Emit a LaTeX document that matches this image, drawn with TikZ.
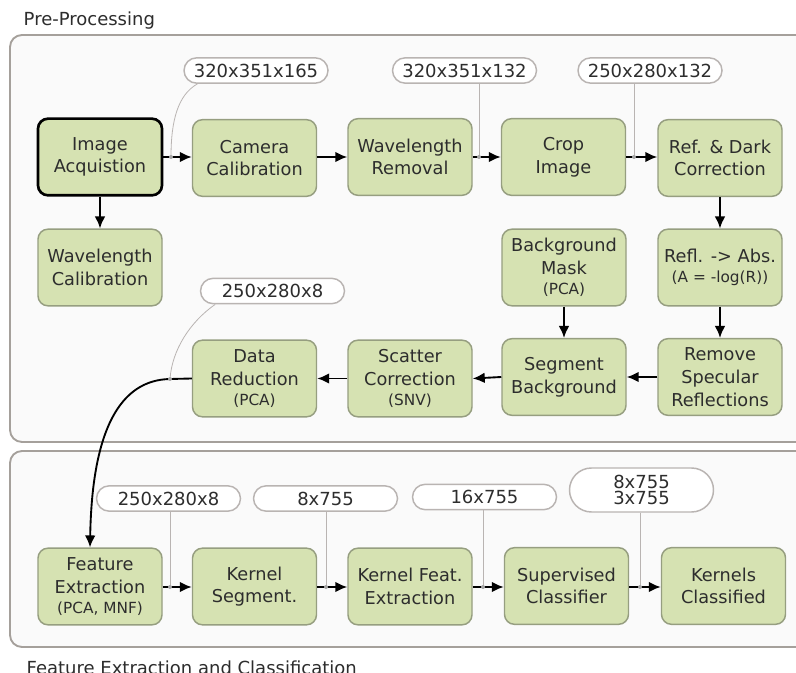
\documentclass[tikz,border=0pt]{standalone}
\usepackage{fontspec}
\setmainfont{DejaVu Sans}
\usetikzlibrary{arrows.meta,shapes.misc}
\definecolor{nodefill}{RGB}{214,226,178}
\definecolor{nodeline}{RGB}{150,158,128}
\definecolor{frameline}{RGB}{165,160,155}
\definecolor{txt}{RGB}{45,45,45}
\definecolor{thinline}{RGB}{185,180,178}
\newcommand{\subtxt}[1]{{\fontsize{11.5}{13}\selectfont #1}}
\tikzset{
  box/.style={draw=nodeline, line width=1.1pt, fill=nodefill, rounded corners=7.5pt,
    minimum width=93pt, minimum height=57.5pt, inner sep=0pt, align=center,
    text=txt, font=\fontsize{13.3}{17}\selectfont},
  startbox/.style={box, draw=black, line width=2pt},
  dimlabel/.style={draw=thinline, line width=1.1pt, fill=white, rounded rectangle,
    minimum width=108pt, minimum height=19pt, inner sep=0pt, align=center,
    text=txt, font=\fontsize{13.5}{12.5}\selectfont},
  frame/.style={draw=frameline, line width=1.4pt, rounded corners=9pt},
  flow/.style={draw=black, line width=1.4pt, -{Latex[length=9pt,width=8pt]}},
  tie/.style={draw=thinline, line width=0.6pt},
  dot/.style={circle, fill=gray!70, inner sep=0pt, minimum size=3pt},
  title/.style={text=txt, font=\fontsize{13.5}{16}\selectfont, anchor=west}
}
\begin{document}
\begin{tikzpicture}[x=0.75pt,y=-0.75pt]
\useasboundingbox (0,0) rectangle (796,673);
\clip (0,0) rectangle (796,673);
\fill[white] (0,0) rectangle (796,673);
% frames
\draw[frame, fill=black!2] (10,35) rectangle (815,442);
\draw[frame, fill=black!2] (10,451) rectangle (815,647);
\node[title] (t1) at (19,21) {Pre-Processing};
\node[title] (t2) at (22,668) {Feature Extraction and Classification};
% row 1
\node[startbox] (ia) at (100,157) {Image\\Acquistion};
\node[box] (cc) at (254.5,158) {Camera\\Calibration};
\node[box] (wr) at (410,157) {Wavelength\\Removal};
\node[box] (ci) at (563.5,157) {Crop\\Image};
\node[box] (rd) at (720,158) {Ref. \& Dark\\Correction};
% row 2
\node[box] (wc) at (100,267.5) {Wavelength\\Calibration};
\node[box] (bm) at (564,267.5) {Background\\Mask\\[-2pt]\subtxt{(PCA)}};
\node[box] (ra) at (720,267.5) {Refl. -> Abs.\\[-2pt]\subtxt{(A = -log(R))}};
% row 3
\node[box] (dr) at (254.5,378.5) {Data\\Reduction\\[-2pt]\subtxt{(PCA)}};
\node[box] (sc) at (410,378.5) {Scatter\\Correction\\[-2pt]\subtxt{(SNV)}};
\node[box] (sb) at (564,377) {Segment\\Background};
\node[box] (rs) at (720,377) {Remove\\Specular\\Reflections};
% row 4
\node[box] (fe) at (100,586.5) {Feature\\Extraction\\[-2pt]\subtxt{(PCA, MNF)}};
\node[box] (ks) at (254.5,586.5) {Kernel\\Segment.};
\node[box] (kf) at (410,586.5) {Kernel Feat.\\Extraction};
\node[box] (sv) at (566.5,586) {Supervised\\Classifier};
\node[box] (kc) at (723.5,586) {Kernels\\Classified};
% labels
\node[dimlabel] (l1) at (256,70.5) {320x351x165};
\node[dimlabel] (l2) at (464.5,70.5) {320x351x132};
\node[dimlabel] (l3) at (650,70.5) {250x280x132};
\node[dimlabel] (l4) at (272.5,291) {250x280x8};
\node[dimlabel] (l5) at (168.5,498.5) {250x280x8};
\node[dimlabel] (l6) at (325.5,498.5) {8x755};
\node[dimlabel] (l7) at (484.5,497) {16x755};
\node[dimlabel, minimum height=33pt] (l8) at (641.5,490) {8x755\\3x755};
% tie points
\coordinate (d1) at (171,157);
\coordinate (d2) at (479,157);
\coordinate (d3) at (634,157);
\coordinate (d4) at (170,379);
\coordinate (d5) at (170,587);
\coordinate (d6) at (326,587);
\coordinate (d7) at (483,587);
\coordinate (d8) at (640,587);
% thin ties
\draw[tie] ([xshift=-44pt]l1.south) .. controls (178,95) and (171,120) .. (d1);
\draw[tie] (l2.south -| d2) -- (d2);
\draw[tie] (l3.south -| d3) -- (d3);
\draw[tie] ([xshift=-43pt]l4.south) .. controls (190,322) and (172,350) .. (d4);
\draw[tie] (l5.south -| d5) -- (d5);
\draw[tie] (l6.south -| d6) -- (d6);
\draw[tie] (l7.south -| d7) -- (d7);
\draw[tie] (l8.south -| d8) -- (d8);
% flow arrows
\draw[flow] (ia.east |- d1) -- (cc.west |- d1);
\draw[flow] (cc.east |- d1) -- (wr.west |- d1);
\draw[flow] (wr.east |- d2) -- (ci.west |- d2);
\draw[flow] (ci.east |- d3) -- (rd.west |- d3);
\draw[flow] (ia.south) -- (wc.north);
\draw[flow] (rd.south) -- (ra.north);
\draw[flow] (ra.south) -- (rs.north);
\draw[flow] (bm.south) -- (sb.north);
\draw[flow] (rs.west) -- (sb.east);
\draw[flow] (sb.west) -- (sc.east);
\draw[flow] (sc.west) -- (dr.east);
\draw[black, line width=1.4pt] (dr.west) -- (d4);
\draw[flow] (d4) .. controls (120,380) and (92,430) .. (fe.north -| 90,0);
\draw[flow] (fe.east |- d5) -- (ks.west |- d5);
\draw[flow] (ks.east |- d6) -- (kf.west |- d6);
\draw[flow] (kf.east |- d7) -- (sv.west |- d7);
\draw[flow] (sv.east |- d8) -- (kc.west |- d8);
% dots
\foreach \d in {d1,d2,d3,d4,d5,d6,d7,d8} \node[dot] at (\d) {};
\end{tikzpicture}
\end{document}
